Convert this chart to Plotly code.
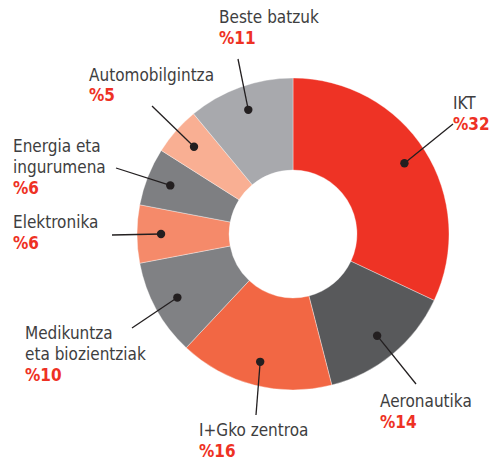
import math
import plotly.graph_objects as go

# ---------------- data ----------------
categories = ["IKT", "Aeronautika", "I+Gko zentroa", "Medikuntza<br>eta biozientziak",
              "Elektronika", "Energia eta<br>ingurumena", "Automobilgintza", "Beste batzuk"]
values = [32, 14, 16, 10, 6, 6, 5, 11]

# ---------------- style / layout ----------------
W, H = 493, 461
colors = ["#EE3325", "#58595B", "#F26744", "#808184", "#F58A6A", "#7E7F82", "#F9AF93", "#A8A9AD"]
CX, CY, R = 293.0, 234.0, 156.0          # pie centre / radius in pixels
HOLE = 0.41
DOT_R = 0.846                            # dot radius fraction of outer radius
FONT = "Liberation Sans Narrow, DejaVu Sans Condensed, Arial Narrow, sans-serif"
FS = 17
TEXT_GRAY = "#3E3E40"
RED = "#EE3124"
INK = "#231F20"
LINE_GAP = 21

# label anchor (left x, centre-y of first line) and leader-line end point, per category
label_pos = [(451, 102.5), (378, 400.5), (197, 430), (23, 332.5),
             (11, 221.5), (11, 146), (87, 74.5), (217, 17.5)]
line_end = [(453, 124), (416, 384), (256, 415), (132, 328),
            (112, 235), (116, 168), (152, 106), (238, 59)]


def px(x):
    return x / W


def py(y):
    return 1 - y / H


fig = go.Figure()
fig.add_trace(go.Pie(
    labels=categories, values=values, sort=False, direction="clockwise", rotation=0,
    hole=HOLE, textinfo="none", hoverinfo="label+value",
    marker=dict(colors=colors, line=dict(color="rgba(255,255,255,0.6)", width=0.6)),
    domain=dict(x=[px(CX - R), px(CX + R)], y=[py(CY + R), py(CY - R)]),
    showlegend=False,
))

shapes = []
annotations = []
total = sum(values)
cum = 0
for i, (name, v) in enumerate(zip(categories, values)):
    mid = (cum + v / 2) / total * 2 * math.pi
    cum += v
    dx = CX + DOT_R * R * math.sin(mid)
    dy = CY - DOT_R * R * math.cos(mid)
    ex, ey = line_end[i]
    shapes.append(dict(type="line", xref="paper", yref="paper",
                       x0=px(dx), y0=py(dy), x1=px(ex), y1=py(ey),
                       line=dict(color=INK, width=1.3), layer="above"))
    rr = 4.2
    shapes.append(dict(type="circle", xref="paper", yref="paper",
                       x0=px(dx - rr), x1=px(dx + rr), y0=py(dy - rr), y1=py(dy + rr),
                       fillcolor=INK, line=dict(color=INK, width=0), layer="above"))
    lx, ly = label_pos[i]
    lines = name.split("<br>")
    for j, t in enumerate(lines):
        annotations.append(dict(xref="paper", yref="paper", x=px(lx), y=py(ly + j * LINE_GAP),
                                xanchor="left", yanchor="middle", showarrow=False, text=t,
                                font=dict(family=FONT, size=FS, color=TEXT_GRAY)))
    annotations.append(dict(xref="paper", yref="paper", x=px(lx), y=py(ly + len(lines) * LINE_GAP),
                            xanchor="left", yanchor="middle", showarrow=False,
                            text="<b>%" + str(v) + "</b>",
                            font=dict(family=FONT, size=FS, color=RED)))

fig.update_layout(
    width=W, height=H, margin=dict(l=0, r=0, t=0, b=0),
    paper_bgcolor="white", plot_bgcolor="white",
    shapes=shapes, annotations=annotations,
)

fig.write_html("out.html", config={"displayModeBar": False},
               post_script="document.body.style.margin='0';")
